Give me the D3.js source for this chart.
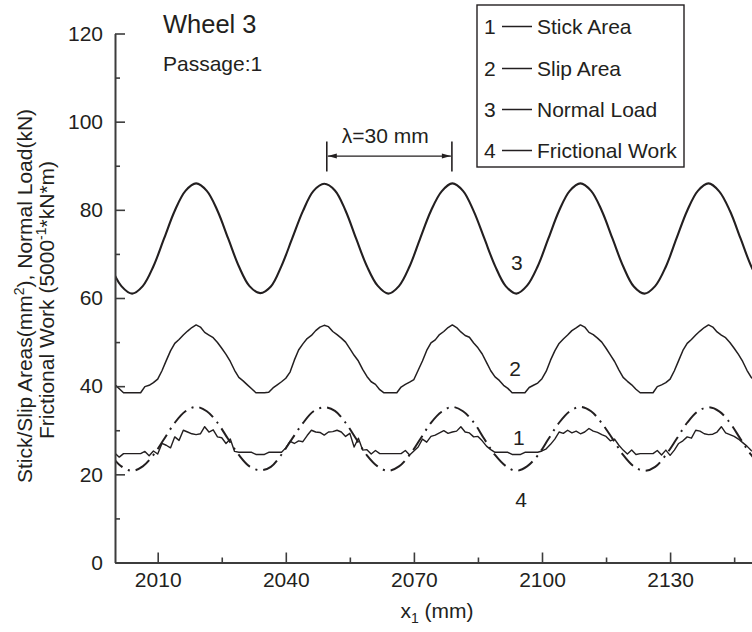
<!DOCTYPE html>
<html><head><meta charset="utf-8">
<script src="https://cdn.jsdelivr.net/npm/d3@7"></script>
<style>
body{margin:0;background:#fff}
svg{display:block;background:#fff}
text{font-family:"Liberation Sans",Arial,Helvetica,sans-serif;fill:#231f20}
</style>
</head><body>
<svg id="chart" width="752" height="632"></svg>
<script>
// ---- data (x in mm) ----
const xFine = [2000,2001,2002,2003,2004,2005,2006,2007,2008,2009,
2010,2011,2012,2013,2014,2015,2016,2017,2018,2019,
2020,2021,2022,2023,2024,2025,2026,2027,2028,2029,
2030,2031,2032,2033,2034,2035,2036,2037,2038,2039,
2040,2041,2042,2043,2044,2045,2046,2047,2048,2049,
2050,2051,2052,2053,2054,2055,2056,2057,2058,2059,
2060,2061,2062,2063,2064,2065,2066,2067,2068,2069,
2070,2071,2072,2073,2074,2075,2076,2077,2078,2079,
2080,2081,2082,2083,2084,2085,2086,2087,2088,2089,
2090,2091,2092,2093,2094,2095,2096,2097,2098,2099,
2100,2101,2102,2103,2104,2105,2106,2107,2108,2109,
2110,2111,2112,2113,2114,2115,2116,2117,2118,2119,
2120,2121,2122,2123,2124,2125,2126,2127,2128,2129,
2130,2131,2132,2133,2134,2135,2136,2137,2138,2139,
2140,2141,2142,2143,2144,2145,2146,2147,2148,2149,
2150];

const stickArea = [24.8,23.9,24.7,24.7,24.7,24.7,24.7,25.2,24.2,25.3,
24.6,27.0,26.6,26.0,28.5,27.7,30.0,29.6,29.2,29.0,
29.2,30.8,29.6,30.1,28.5,28.3,27.0,28.0,25.2,25.0,
25.0,25.0,25.0,24.5,24.5,24.5,25.0,25.0,25.0,25.0,
26.0,27.5,27.0,27.6,27.4,28.8,30.0,29.6,29.5,28.9,
29.6,29.7,30.0,29.6,28.6,29.3,26.2,28.2,25.5,25.6,
24.6,25.4,24.7,24.7,24.7,24.7,24.7,24.7,25.4,24.4,
25.3,26.2,28.0,27.3,28.6,28.9,29.4,29.9,29.3,29.6,
29.8,30.8,29.6,29.4,28.5,28.6,27.6,26.4,25.6,25.0,
25.0,25.0,25.0,24.5,24.5,24.5,25.0,25.0,25.0,25.0,
25.3,25.8,26.8,28.0,29.6,29.3,30.0,29.4,29.8,29.2,
29.6,30.4,29.8,29.5,29.0,28.6,27.6,28.0,26.6,25.5,
24.6,25.5,24.5,24.7,24.7,24.7,24.7,25.4,24.4,25.5,
24.3,25.5,27.0,27.6,28.5,28.2,30.0,29.8,29.2,29.0,
29.1,29.6,30.8,29.4,29.0,28.6,28.0,27.2,26.4,25.4,
24.8];

const slipArea = [40.3,39.4,38.5,38.5,
38.5,38.5,38.5,39.9,40.2,40.8,41.6,43.5,45.8,48.0,49.7,50.6,51.6,52.5,53.3,53.9,53.4,52.2,51.6,51.0,49.9,48.6,47.2,45.6,43.6,42.0,41.2,40.3,39.4,38.5,
38.5,38.5,38.6,39.6,40.3,41.0,41.8,43.2,45.9,48.2,49.6,50.8,51.5,52.6,53.4,53.8,53.5,52.4,51.7,50.9,50.0,48.5,47.0,45.7,43.8,42.2,41.0,40.4,39.2,38.5,
38.5,38.5,38.5,39.8,40.4,40.9,41.5,43.6,45.7,48.1,49.8,50.5,51.7,52.4,53.3,53.9,53.3,52.3,51.5,51.1,49.8,48.7,47.3,45.4,43.5,42.1,41.3,40.2,39.5,38.5,
38.5,38.5,38.5,39.7,40.2,40.7,41.7,43.4,45.9,48.0,49.7,50.7,51.6,52.6,53.2,53.9,53.4,52.2,51.7,50.9,50.0,48.6,47.1,45.6,43.7,42.0,41.1,40.3,39.3,38.5,
38.5,38.5,38.5,39.9,40.3,40.8,41.6,43.5,45.8,48.1,49.7,50.6,51.6,52.5,53.3,53.9,53.4,52.3,51.6,51.0,49.9,48.6,47.2,45.6,43.6,42.0,41.2];

const xCoarse = [1999,2001.5,2004,2006.5,2009,2011.5,2014,2016.5,2019,2021.5,
2024,2026.5,2029,2031.5,2034,2036.5,2039,2041.5,2044,2046.5,
2049,2051.5,2054,2056.5,2059,2061.5,2064,2066.5,2069,2071.5,
2074,2076.5,2079,2081.5,2084,2086.5,2089,2091.5,2094,2096.5,
2099,2101.5,2104,2106.5,2109,2111.5,2114,2116.5,2119,2121.5,
2124,2126.5,2129,2131.5,2134,2136.5,2139,2141.5,2144,2146.5,
2149,2151.5];

const normalLoad = [67.2,62.7,
61.0,62.7,67.2,73.5,79.8,84.3,86.0,84.3,79.8,73.5,67.2,62.7,
61.1,62.6,67.3,73.5,79.7,84.3,85.9,84.4,79.8,73.4,67.2,62.8,
61.0,62.7,67.2,73.6,79.8,84.2,86.0,84.3,79.7,73.5,67.3,62.7,
61.0,62.8,67.2,73.5,79.8,84.3,86.0,84.3,79.8,73.5,67.2,62.6,
61.0,62.7,67.1,73.5,79.8,84.3,86.0,84.2,79.8,73.5,67.2,62.7];

const fricWork = [24.4,21.8,
20.8,21.8,24.4,28.0,31.7,34.3,35.3,34.3,31.7,28.0,24.4,21.8,
20.9,21.7,24.5,28.1,31.6,34.3,35.2,34.4,31.7,28.0,24.3,21.8,
20.8,21.8,24.4,28.0,31.7,34.2,35.3,34.3,31.8,28.0,24.4,21.9,
20.8,21.8,24.3,28.0,31.7,34.3,35.3,34.3,31.6,28.1,24.4,21.8,
20.8,21.7,24.4,28.0,31.7,34.3,35.2,34.3,31.7,28.0,24.4,21.8];

const yMajorTicks = [0,20,40,60,80,100,120];
const yMinorTicks = [10,30,50,70,90,110];
const xMajorTicks = [2010,2040,2070,2100,2130];
const xMinorTicks = [2025,2055,2085,2115,2145];
const legendNums = ["1","2","3","4"];
const legendLabels = ["Stick Area","Slip Area","Normal Load","Frictional Work"];
const curveLabels = [{t:"3",x:2094.1,y:66.4},{t:"2",x:2093.7,y:42.2},{t:"1",x:2094.6,y:26.7},{t:"4",x:2095.1,y:12.6}];
const lambdaSpan = [2049.6, 2078.9];

// ---- drawing ----
const ink = "#231f20";
const svg = d3.select("#chart");
const x = d3.scaleLinear().domain([2000,2150]).range([115,755.5]);
const y = d3.scaleLinear().domain([0,120]).range([562.5,33.5]);

svg.append("defs").append("clipPath").attr("id","plotclip")
  .append("rect").attr("x",115).attr("y",0).attr("width",640).attr("height",563);

const plot = svg.append("g").attr("clip-path","url(#plotclip)");

const lineFine = (vals) => d3.line().x((d,i)=>x(xFine[i])).y(d=>y(d)).curve(d3.curveLinear)(vals);
const lineSmooth = (vals) => d3.line().x((d,i)=>x(xCoarse[i])).y(d=>y(d)).curve(d3.curveCatmullRom.alpha(0.5))(vals);

plot.append("path").attr("d",lineSmooth(normalLoad)).attr("fill","none").attr("stroke",ink).attr("stroke-width",2.1);
plot.append("path").attr("d",lineFine(slipArea)).attr("fill","none").attr("stroke",ink).attr("stroke-width",1.5).attr("stroke-linejoin","round");
plot.append("path").attr("d",lineSmooth(fricWork)).attr("fill","none").attr("stroke",ink).attr("stroke-width",2).attr("stroke-dasharray","17,6,2,6");
plot.append("path").attr("d",lineFine(stickArea)).attr("fill","none").attr("stroke",ink).attr("stroke-width",1.4).attr("stroke-linejoin","round");

// axes
const axisColor = "#3c3c3c";
svg.append("g").attr("transform","translate(115,0)")
  .call(d3.axisLeft(y).tickValues(yMajorTicks).tickSizeInner(-10).tickSizeOuter(0).tickPadding(12).tickFormat(d3.format("d")));
svg.append("g").attr("transform","translate(115,0)")
  .call(d3.axisLeft(y).tickValues(yMinorTicks).tickSizeInner(-5).tickSizeOuter(0).tickFormat(""))
  .select(".domain").remove();
svg.append("g").attr("transform","translate(0,562.5)")
  .call(d3.axisBottom(x).tickValues(xMajorTicks).tickSizeInner(-10).tickSizeOuter(0).tickPadding(10).tickFormat(d3.format("d")));
svg.append("g").attr("transform","translate(0,562.5)")
  .call(d3.axisBottom(x).tickValues(xMinorTicks).tickSizeInner(-5).tickSizeOuter(0).tickFormat(""))
  .select(".domain").remove();
svg.selectAll(".domain").attr("stroke",axisColor).attr("stroke-width",2);
svg.selectAll(".tick line").attr("stroke",axisColor).attr("stroke-width",1.6);
svg.selectAll(".tick text").attr("font-size",21).attr("fill",ink).attr("font-family","Liberation Sans, Arial, sans-serif");

// axis titles
const xt = svg.append("text").attr("x",437).attr("y",618).attr("text-anchor","middle").attr("font-size",21);
xt.append("tspan").text("x");
xt.append("tspan").attr("font-size",14).attr("dy",5).text("1");
xt.append("tspan").attr("dy",-5).text(" (mm)");

const yt1 = svg.append("text").attr("transform","translate(32,296) rotate(-90)").attr("text-anchor","middle").attr("font-size",21);
yt1.append("tspan").text("Stick/Slip Areas(mm");
yt1.append("tspan").attr("font-size",14).attr("dy",-8).text("2");
yt1.append("tspan").attr("dy",8).text("), Normal Load(kN)");
const yt2 = svg.append("text").attr("transform","translate(54,300) rotate(-90)").attr("text-anchor","middle").attr("font-size",21);
yt2.append("tspan").text("Frictional Work (5000");
yt2.append("tspan").attr("font-size",14).attr("dy",-8).text("-1");
yt2.append("tspan").attr("dy",8).text("*kN*m)");

// titles
svg.append("text").attr("x",163).attr("y",33).attr("font-size",25.5).text("Wheel 3");
svg.append("text").attr("x",163).attr("y",71).attr("font-size",21).text("Passage:1");

// curve labels
svg.selectAll(".clabel").data(curveLabels).enter().append("text")
  .attr("class","clabel").attr("x",d=>x(d.x)).attr("y",d=>y(d.y)).attr("text-anchor","middle").attr("font-size",21).text(d=>d.t);

// lambda annotation
const lx0 = x(lambdaSpan[0]), lx1 = x(lambdaSpan[1]);
const yBarTop = y(95.5), yBarBot = y(88.7), yArrow = y(92.2);
[lx0,lx1].forEach(px=>svg.append("line").attr("x1",px).attr("x2",px).attr("y1",yBarTop).attr("y2",yBarBot).attr("stroke",ink).attr("stroke-width",1.6));
svg.append("line").attr("x1",lx0+1).attr("x2",lx1-1).attr("y1",yArrow).attr("y2",yArrow).attr("stroke",ink).attr("stroke-width",1.2);
svg.append("path").attr("d",`M${lx0+1},${yArrow} l9,-2.5 l0,5 Z`).attr("fill",ink);
svg.append("path").attr("d",`M${lx1-1},${yArrow} l-9,-2.5 l0,5 Z`).attr("fill",ink);
svg.append("text").attr("x",(lx0+lx1)/2-4).attr("y",y(95.2)).attr("text-anchor","middle").attr("font-size",21).text("\u03bb=30 mm");

// legend
const lg = svg.append("g");
lg.append("rect").attr("x",477).attr("y",5).attr("width",207).attr("height",162).attr("fill","#fff").attr("stroke",ink).attr("stroke-width",1.4);
const rowBase = [34,76,117,158];
legendLabels.forEach((lab,i)=>{
  const b = rowBase[i];
  lg.append("text").attr("x",484).attr("y",b).attr("font-size",21).text(legendNums[i]);
  lg.append("line").attr("x1",502).attr("x2",532).attr("y1",b-7.5).attr("y2",b-7.5).attr("stroke",ink).attr("stroke-width",1.5);
  lg.append("text").attr("x",537).attr("y",b).attr("font-size",21).text(lab);
});
</script>
</body></html>
